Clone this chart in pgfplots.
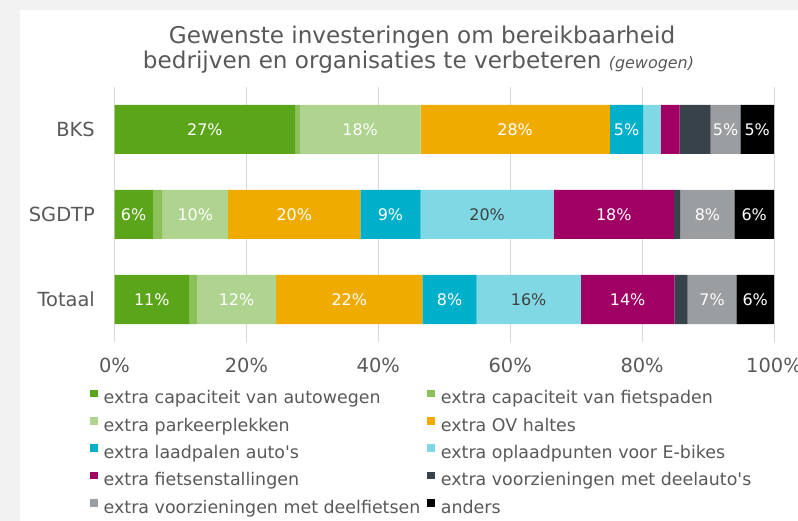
\documentclass[border=0pt]{standalone}
\usepackage{pgfplots}
\pgfplotsset{compat=1.18}
\usepackage{pgfplotstable}
\usepackage{fontspec}
\setmainfont{DejaVu Sans}
\definecolor{cA}{HTML}{5BA51B}
\definecolor{cB}{HTML}{8CC15A}
\definecolor{cC}{HTML}{AED48F}
\definecolor{cD}{HTML}{F0AB00}
\definecolor{cE}{HTML}{00B0CA}
\definecolor{cF}{HTML}{80D8E4}
\definecolor{cG}{HTML}{A00064}
\definecolor{cH}{HTML}{37424A}
\definecolor{cI}{HTML}{9A9EA1}
\definecolor{cJ}{HTML}{000000}
\definecolor{txt}{HTML}{595959}
\definecolor{lbl}{HTML}{404040}
\definecolor{bg}{HTML}{F2F2F2}
\definecolor{grd}{HTML}{D9D9D9}
% y: 2 = BKS, 1 = SGDTP, 0 = Totaal ; v = share (%), l = printed label (0 = none)
\pgfplotstableread[row sep=\\]{y v l\\ 2 27.4 27\\ 1 5.8 6\\ 0 11.3 11\\}\sA
\pgfplotstableread[row sep=\\]{y v l\\ 2 0.7 0\\ 1 1.5 0\\ 0 1.2 0\\}\sB
\pgfplotstableread[row sep=\\]{y v l\\ 2 18.3 18\\ 1 9.9 10\\ 0 12.0 12\\}\sC
\pgfplotstableread[row sep=\\]{y v l\\ 2 28.7 28\\ 1 20.1 20\\ 0 22.2 22\\}\sD
\pgfplotstableread[row sep=\\]{y v l\\ 2 5.1 5\\ 1 9.1 9\\ 0 8.2 8\\}\sE
\pgfplotstableread[row sep=\\]{y v l\\ 2 2.6 0\\ 1 20.2 20\\ 0 15.8 16\\}\sF
\pgfplotstableread[row sep=\\]{y v l\\ 2 2.9 0\\ 1 18.2 18\\ 0 14.2 14\\}\sG
\pgfplotstableread[row sep=\\]{y v l\\ 2 4.7 0\\ 1 1.0 0\\ 0 2.0 0\\}\sH
\pgfplotstableread[row sep=\\]{y v l\\ 2 4.5 5\\ 1 8.2 8\\ 0 7.4 7\\}\sI
\pgfplotstableread[row sep=\\]{y v l\\ 2 5.1 5\\ 1 6.0 6\\ 0 5.7 6\\}\sJ
\pgfplotsset{
  seg/.style={fill=#1, draw=none,
    point meta=explicit,
    nodes near coords={\pgfmathfloattoint{\pgfplotspointmeta}\ifnum\pgfmathresult>0 \pgfmathresult\%\fi},
    every node near coord/.append style={anchor=center, inner sep=0pt, text=white, font=\fontsize{16}{18}\selectfont}},
}
\begin{document}
\begin{tikzpicture}
\fill[bg] (0,0) rectangle (798bp,521bp);
\fill[white] (20bp,0) rectangle (798bp,511bp);
\useasboundingbox (0,0) rectangle (798bp,521bp);
\node[text=txt, font=\fontsize{23.2}{25}\selectfont, anchor=base] at (422bp,477.5bp) {Gewenste investeringen om bereikbaarheid};
\node[text=txt, font=\fontsize{23.2}{25}\selectfont, anchor=base] at (418.5bp,452.5bp) {bedrijven en organisaties te verbeteren {\itshape\fontsize{16}{18}\selectfont (gewogen)}};
\begin{axis}[
  at={(114.5bp,179bp)}, anchor=south west,
  scale only axis, width=659.5bp, height=255bp,
  xbar stacked, bar width=49bp,
  xmin=0, xmax=100, ymin=-0.5, ymax=2.5,
  xtick={0,20,40,60,80,100}, xticklabels={0\%,20\%,40\%,60\%,80\%,100\%},
  ytick={0,1,2}, yticklabels={Totaal,SGDTP,BKS},
  major tick length=0pt,
  axis line style={draw=none},
  xmajorgrids, grid style={grd, line width=1bp},
  tick label style={color=txt, font=\fontsize{19.5}{21}\selectfont},
  xticklabel style={anchor=base, yshift=-30.5bp},
  yticklabel style={anchor=east, inner sep=0pt, xshift=-19.5bp},
  legend columns=2,
  legend style={at={(-0.0371,-0.186)}, anchor=north west, draw=none, fill=none, inner sep=0pt,
    font=\fontsize{17.5}{19}\selectfont, text=txt, row sep=11.7bp,
    nodes={inner sep=0pt},
    /tikz/every odd column/.append style={column sep=6bp},
    /tikz/every even column/.append style={column sep=7bp}},
  legend image code/.code={\fill[#1] (0bp,0.8bp) rectangle (7.5bp,8.3bp);},
  legend cell align=left,
]
\addplot[seg=cA] table[x=v,y=y,meta=l]{\sA};
\addplot[seg=cB] table[x=v,y=y,meta=l]{\sB};
\addplot[seg=cC] table[x=v,y=y,meta=l]{\sC};
\addplot[seg=cD] table[x=v,y=y,meta=l]{\sD};
\addplot[seg=cE] table[x=v,y=y,meta=l]{\sE};
\addplot[seg=cF, every node near coord/.append style={text=lbl}] table[x=v,y=y,meta=l]{\sF};
\addplot[seg=cG] table[x=v,y=y,meta=l]{\sG};
\addplot[seg=cH] table[x=v,y=y,meta=l]{\sH};
\addplot[seg=cI] table[x=v,y=y,meta=l]{\sI};
\addplot[seg=cJ] table[x=v,y=y,meta=l]{\sJ};
\legend{extra capaciteit van autowegen, extra capaciteit van fietspaden, extra parkeerplekken, extra OV haltes, extra laadpalen auto\textquotesingle s, extra oplaadpunten voor E-bikes, extra fietsenstallingen, extra voorzieningen met deelauto\textquotesingle s, extra voorzieningen met deelfietsen, anders}
\end{axis}
\end{tikzpicture}
\end{document}
